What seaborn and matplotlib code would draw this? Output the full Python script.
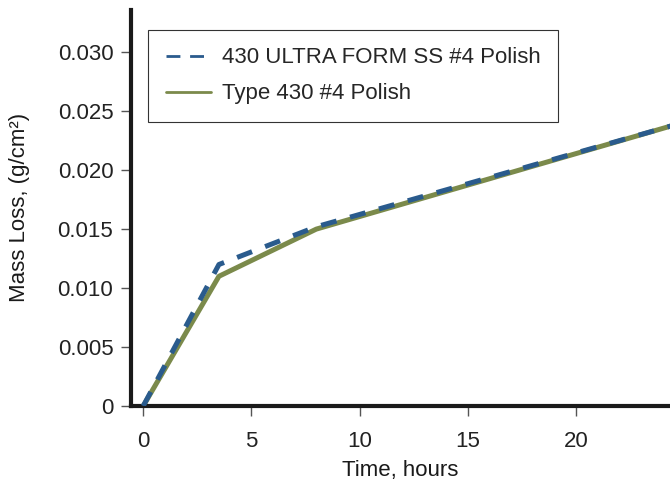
import matplotlib
matplotlib.use("Agg")
import matplotlib.pyplot as plt
from matplotlib.lines import Line2D
import seaborn as sns
import pandas as pd

hours = [0, 3.5, 8, 24.5]
ultra_form = [0.0, 0.0120, 0.0152, 0.0238]
type_430 = [0.0, 0.0110, 0.0150, 0.0238]
labels = ["430 ULTRA FORM SS #4 Polish", "Type 430 #4 Polish"]
blue, olive = "#2a5b8d", "#7b8a4b"

sns.set_style("ticks")
plt.rcParams["font.family"] = ["Liberation Sans", "DejaVu Sans"]

df = pd.DataFrame({"hours": hours, labels[0]: ultra_form, labels[1]: type_430})

fig = plt.figure(figsize=(6.7, 4.88), dpi=100)
ax = fig.add_axes([0.196, 0.168, 0.804, 0.812])

sns.lineplot(data=df, x="hours", y=labels[1], ax=ax, color=olive, lw=3.6, zorder=2)
sns.lineplot(data=df, x="hours", y=labels[0], ax=ax, color=blue, lw=3.6,
             zorder=3, linestyle=(0, (3.2, 2.8)))

ax.set_xlim(-0.55, 24.35)
ax.set_ylim(0, 0.0336)
ax.set_xticks([0, 5, 10, 15, 20])
ax.set_yticks([0, 0.005, 0.010, 0.015, 0.020, 0.025, 0.030])
ax.set_yticklabels(["0", "0.005", "0.010", "0.015", "0.020", "0.025", "0.030"])
ax.tick_params(labelsize=16, labelcolor="#222222", color="#555555", length=7, width=1)
ax.tick_params(axis="y", pad=6)
ax.tick_params(axis="x", pad=11)
for s in ["top", "right"]:
    ax.spines[s].set_visible(False)
for s in ["left", "bottom"]:
    ax.spines[s].set_linewidth(3)
    ax.spines[s].set_color("#1a1a1a")

ax.set_xlabel("Time, hours", fontsize=16, color="#1a1a1a", labelpad=6)
ax.set_ylabel("Mass Loss, (g/cm²)", fontsize=16, color="#1a1a1a", labelpad=20)

handles = [Line2D([], [], color=blue, lw=2, linestyle=(0, (5, 3.5))),
           Line2D([], [], color=olive, lw=2)]
leg = ax.legend(handles, labels, loc="upper left", bbox_to_anchor=(0.0315, 0.95), fontsize=16,
                frameon=True, fancybox=False, edgecolor="#333333", framealpha=1,
                handlelength=2.0, borderpad=0.8, labelspacing=0.68, handletextpad=0.5,
                borderaxespad=0)
leg.get_frame().set_linewidth(0.8)

fig.savefig("out.png", dpi=100)
